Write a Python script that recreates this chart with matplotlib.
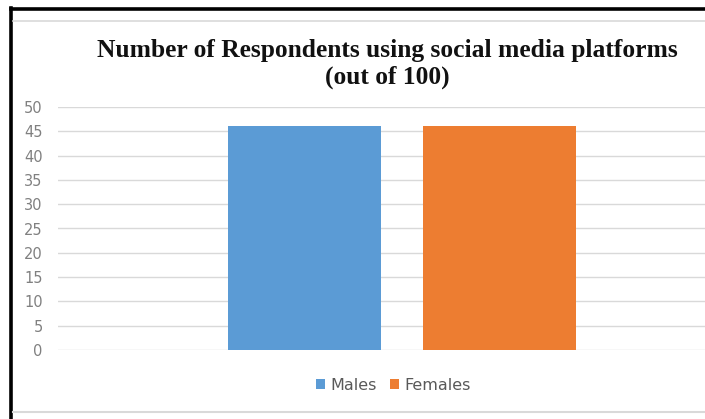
import matplotlib.pyplot as plt
from matplotlib.lines import Line2D
from matplotlib.patches import Patch

# Data
series = ["Males", "Females"]
values = [46, 46]
colors = ["#5b9bd5", "#ed7d31"]
yticks = [0, 5, 10, 15, 20, 25, 30, 35, 40, 45, 50]
title = "Number of Respondents using social media platforms\n(out of 100)"

W, H = 705, 419
fig = plt.figure(figsize=(W / 100, H / 100), dpi=100)

def fx(px):
    return px / W

def fy(py):
    return 1 - py / H

# Outer frame: black edges at top/left, light grey chart-area edges
fig.add_artist(Line2D([fx(11), fx(705)], [fy(9), fy(9)], color="black", lw=2.6))
fig.add_artist(Line2D([fx(11), fx(11)], [fy(8), fy(419)], color="black", lw=2.6))
fig.add_artist(Line2D([fx(13), fx(705)], [fy(21.5), fy(21.5)], color="#d9d9d9", lw=1.2))
fig.add_artist(Line2D([fx(13), fx(705)], [fy(411.5), fy(411.5)], color="#d9d9d9", lw=1.5))

# Plot area (extends past the right edge of the canvas)
left, right = 58, 746
top, bottom = 107, 350
ax = fig.add_axes([fx(left), fy(bottom), (right - left) / W, (bottom - top) / H])
ax.set_xlim(-0.5, 0.5)
ax.set_ylim(0, 50)

bar_w = 153 / (right - left)
offset = 97.5 / (right - left)
for i, (name, v, c) in enumerate(zip(series, values, colors)):
    ax.bar((i - 0.5) * 2 * offset, v, width=bar_w, color=c, zorder=3)

ax.set_yticks(yticks)
ax.set_xticks([])
ax.yaxis.grid(True, color="#d9d9d9", lw=1.0, zorder=0)
for s in ax.spines.values():
    s.set_visible(False)
ax.tick_params(axis="y", length=0, pad=11, labelsize=10.5, labelcolor="#808080")
for lab in ax.get_yticklabels():
    lab.set_fontfamily("DejaVu Sans")

fig.text(fx(387), fy(64), title, ha="center", va="center",
         family="Liberation Serif", fontweight="bold", fontsize=18.4,
         linespacing=1.2, color="#111111")

handles = [Patch(facecolor=c, edgecolor="none") for c in colors]
leg = fig.legend(handles, series, loc="center", bbox_to_anchor=(fx(393.5), fy(385)),
                 ncol=2, frameon=False, handlelength=0.55, handleheight=0.55,
                 handletextpad=0.35, columnspacing=0.8,
                 prop={"family": "DejaVu Sans", "size": 11.5})
for t in leg.get_texts():
    t.set_color("#595959")

fig.savefig("out.png", dpi=100)
